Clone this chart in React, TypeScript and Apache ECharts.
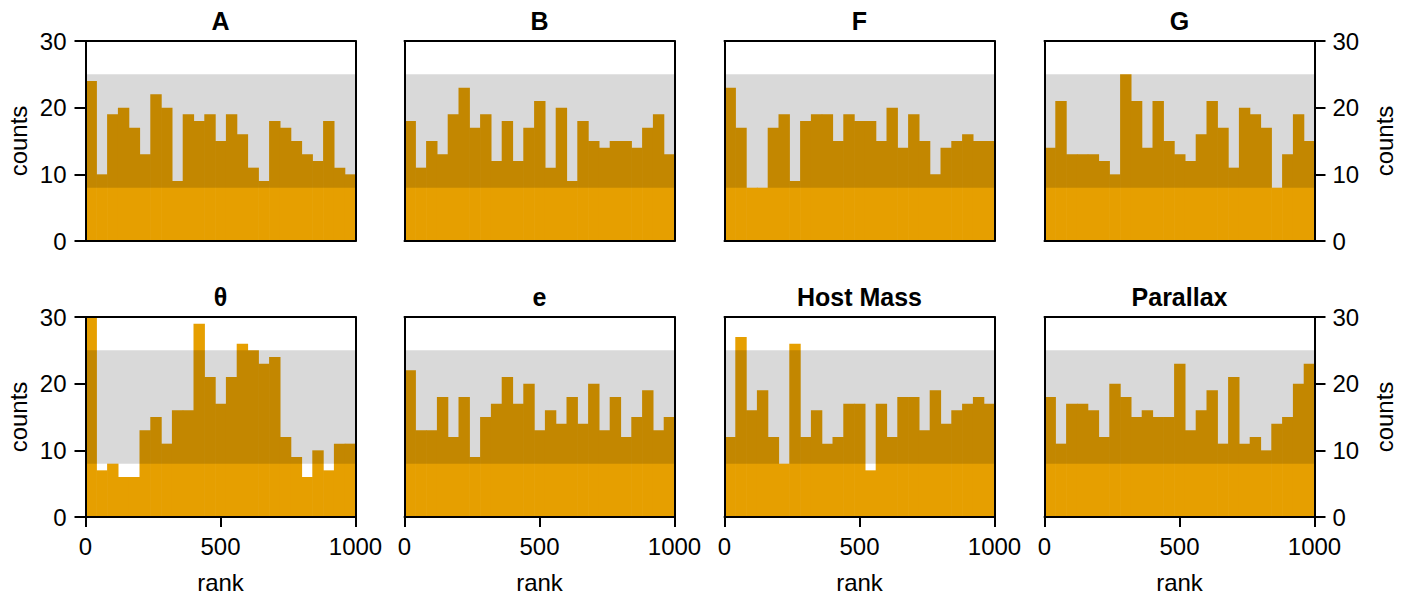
import React, { useEffect, useRef } from "react";
import * as echarts from "echarts";

// ---- data ----
const panelTitles = ["A", "B", "F", "G", "θ", "e", "Host Mass", "Parallax"];
const rankBinEdges = [0, 40, 80, 120, 160, 200, 240, 280, 320, 360, 400, 440, 480, 520, 560, 600, 640, 680, 720, 760, 800, 840, 880, 920, 960, 1000];
const countsA = [24, 10, 19, 20, 17, 13, 22, 20, 9, 19, 18, 19, 15, 19, 16, 11, 9, 18, 17, 15, 13, 12, 18, 11, 10];
const countsB = [18, 11, 15, 13, 19, 23, 17, 19, 12, 18, 12, 17, 21, 11, 20, 9, 18, 15, 14, 15, 15, 14, 17, 19, 13];
const countsF = [23, 17, 8, 8, 17, 19, 9, 18, 19, 19, 15, 19, 18, 18, 15, 20, 14, 19, 15, 10, 14, 15, 16, 15, 15];
const countsG = [14, 21, 13, 13, 13, 12, 10, 25, 21, 14, 21, 15, 13, 12, 16, 21, 17, 11, 20, 19, 17, 8, 13, 19, 15];
const countsTheta = [31, 7, 8, 6, 6, 13, 15, 11, 16, 16, 29, 21, 17, 21, 26, 25, 23, 24, 12, 9, 6, 10, 7, 11, 11];
const countsE = [22, 13, 13, 18, 12, 18, 9, 15, 17, 21, 17, 20, 13, 16, 14, 18, 14, 20, 13, 18, 12, 15, 19, 13, 15];
const countsHostMass = [12, 27, 16, 19, 12, 8, 26, 12, 16, 11, 12, 17, 17, 7, 17, 12, 18, 18, 13, 19, 14, 16, 17, 18, 17];
const countsParallax = [18, 11, 17, 17, 16, 12, 20, 18, 15, 16, 15, 15, 23, 13, 16, 19, 11, 21, 11, 12, 10, 14, 15, 20, 23];
const panelCounts = [countsA, countsB, countsF, countsG, countsTheta, countsE, countsHostMass, countsParallax];
const bandLower = 8;
const bandUpper = 25;
const rankMin = 0;
const rankMax = 1000;
const rankTickInterval = 500;
const countMin = 0;
const countMax = 30;
const countTickInterval = 10;

// ---- layout / style ----
const FONT = '"Liberation Sans", Arial, Helvetica, sans-serif';
const colLefts = [85.5, 404.5, 724.5, 1044.5];
const rowTops = [41, 317];
const gridW = 270;
const gridH = 200;
const ORANGE = "#E69F00";
const BAND = "rgba(0,0,0,0.15)";
const SEAM_OVERLAP = 0.6;

function clipRect(params: any, r: any) {
  const cs = params.coordSys;
  return echarts.graphic.clipRectByRect(r, { x: cs.x, y: cs.y, width: cs.width, height: cs.height });
}

function renderBar(params: any, api: any) {
  const x0 = api.value(0);
  const x1 = api.value(1);
  const v = api.value(2);
  const p0 = api.coord([x0, 0]);
  const p1 = api.coord([x1, v]);
  const r = clipRect(params, {
    x: p0[0],
    y: p1[1],
    width: p1[0] - p0[0] + SEAM_OVERLAP,
    height: p0[1] - p1[1],
  });
  if (!r) return null;
  return { type: "rect", shape: r, style: { fill: ORANGE } };
}

function renderBand(params: any, api: any) {
  const p0 = api.coord([api.value(0), api.value(2)]);
  const p1 = api.coord([api.value(1), api.value(3)]);
  const r = clipRect(params, { x: p0[0], y: p1[1], width: p1[0] - p0[0], height: p0[1] - p1[1] });
  if (!r) return null;
  return { type: "rect", shape: r, style: { fill: BAND } };
}

function buildOption() {
  const grid: any[] = [];
  const xAxis: any[] = [];
  const yAxis: any[] = [];
  const series: any[] = [];
  const graphics: any[] = [];
  const lineStyle = { color: "#000", width: 2 };
  const labelStyle = { fontSize: 24, color: "#000", fontFamily: FONT };

  panelTitles.forEach((title, k) => {
    const row = Math.floor(k / 4);
    const col = k % 4;
    const left = colLefts[col];
    const top = rowTops[row];
    grid.push({ left, top, width: gridW, height: gridH, containLabel: false });
    const bottomRow = row === 1;
    xAxis.push({
      gridIndex: k,
      type: "value",
      position: "bottom",
      min: rankMin,
      max: rankMax,
      interval: rankTickInterval,
      z: 5,
      axisLine: { show: true, onZero: false, lineStyle },
      axisTick: { show: bottomRow, length: 10, lineStyle },
      axisLabel: { show: bottomRow, margin: 17, formatter: (v: number) => String(v), ...labelStyle },
      splitLine: { show: false },
      name: bottomRow ? "rank" : "",
      nameLocation: "middle",
      nameGap: 53,
      nameTextStyle: labelStyle,
    });
    xAxis.push({
      gridIndex: k,
      type: "value",
      position: "top",
      min: rankMin,
      max: rankMax,
      interval: rankTickInterval,
      z: 5,
      axisLine: { show: true, onZero: false, lineStyle },
      axisTick: { show: false },
      axisLabel: { show: false },
      splitLine: { show: false },
    });
    yAxis.push({
      gridIndex: k,
      type: "value",
      position: "left",
      min: countMin,
      max: countMax,
      interval: countTickInterval,
      z: 5,
      axisLine: { show: true, onZero: false, lineStyle },
      axisTick: { show: col === 0, length: 11, lineStyle },
      axisLabel: { show: col === 0, margin: 19, ...labelStyle },
      splitLine: { show: false },
      name: col === 0 ? "counts" : "",
      nameLocation: "middle",
      nameGap: 55,
      nameTextStyle: labelStyle,
    });
    yAxis.push({
      gridIndex: k,
      type: "value",
      position: "right",
      min: countMin,
      max: countMax,
      interval: countTickInterval,
      z: 5,
      axisLine: { show: true, onZero: false, lineStyle },
      axisTick: { show: col === 3, length: 11, lineStyle },
      axisLabel: { show: col === 3, margin: 18, ...labelStyle },
      splitLine: { show: false },
      name: col === 3 ? "counts" : "",
      nameLocation: "middle",
      nameGap: 58,
      nameTextStyle: labelStyle,
    });
    const counts = panelCounts[k];
    series.push({
      type: "custom",
      xAxisIndex: 2 * k,
      yAxisIndex: 2 * k,
      silent: true,
      z: 2,
      renderItem: renderBar,
      data: counts.map((c, i) => [rankBinEdges[i], rankBinEdges[i + 1], c]),
    });
    series.push({
      type: "custom",
      xAxisIndex: 2 * k,
      yAxisIndex: 2 * k,
      silent: true,
      z: 3,
      renderItem: renderBand,
      data: [[rankMin, rankMax, bandLower, bandUpper]],
    });
    graphics.push({
      type: "text",
      x: left + gridW / 2,
      y: top - 20,
      z: 10,
      style: {
        text: title,
        font: `bold 25px ${FONT}`,
        fill: "#000",
        align: "center",
        verticalAlign: "middle",
        textAlign: "center",
        textVerticalAlign: "middle",
      },
    });
  });

  return {
    animation: false,
    backgroundColor: "#fff",
    grid,
    xAxis,
    yAxis,
    series,
    graphic: { elements: graphics },
  };
}

export default function App() {
  const ref = useRef<HTMLDivElement>(null);
  useEffect(() => {
    if (!ref.current) return;
    const chart = echarts.init(ref.current, undefined, { renderer: "svg" });
    chart.setOption(buildOption() as any);
    return () => chart.dispose();
  }, []);
  return (
    <div
      ref={ref}
      style={{ position: "absolute", left: 0, top: 0, width: 1413, height: 597 }}
    />
  );
}
